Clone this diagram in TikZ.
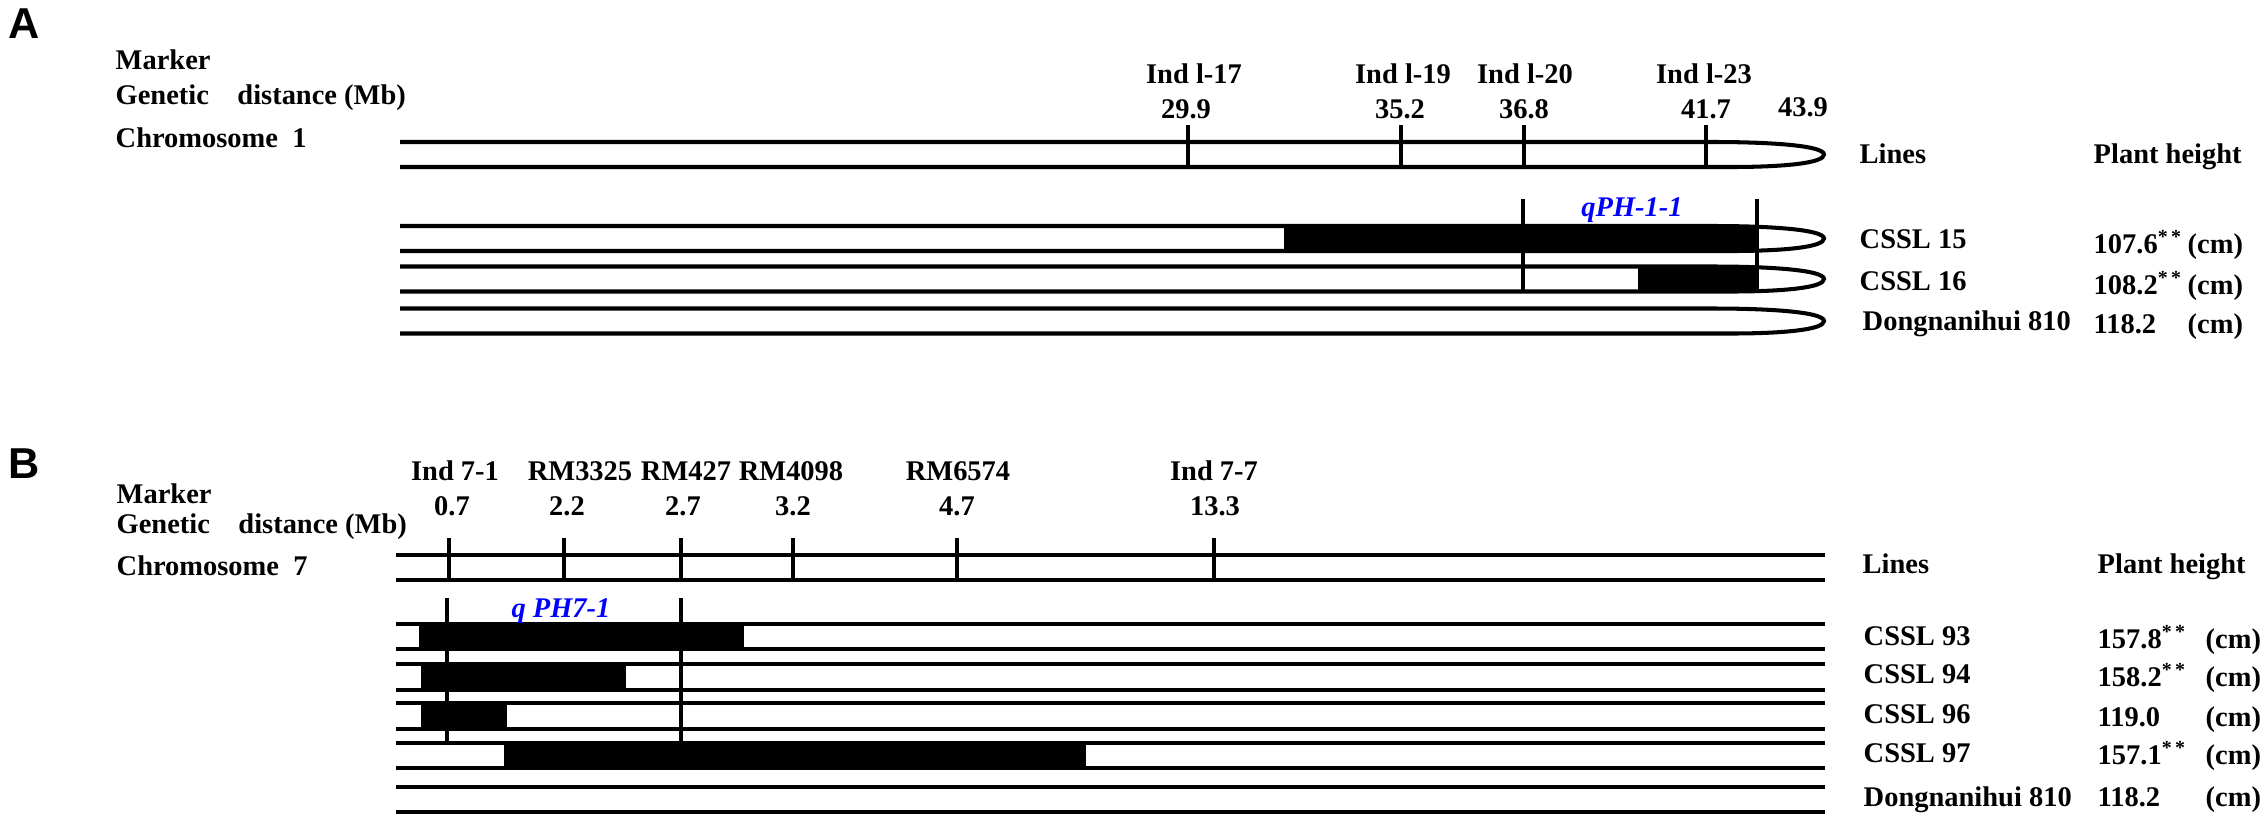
\documentclass[tikz,border=0pt]{standalone}
\usepackage{fontspec}
\setmainfont{Liberation Serif}
\newfontfamily\panelfont{Liberation Sans}
\usepackage{xcolor}
\usepackage{tikz}
\usetikzlibrary{
    positioning,
    calc
}
\tikzset{
    chrom/.style={
        draw=black,
        line width=1.15pt
    }
}
\tikzset{
    segment/.style={
        fill=black
    }
}
\tikzset{
    tick/.style={
        draw=black,
        line width=1pt
    }
}
\tikzset{
    caption/.style={
        anchor=base west,
        inner sep=0pt,
        font=\fontsize{8.1pt}{9.7pt}\selectfont\bfseries
    }
}
\tikzset{
    marker/.style={
        anchor=base,
        inner sep=0pt,
        font=\fontsize{8.1pt}{9.7pt}\selectfont\bfseries
    }
}
\tikzset{
    qtl/.style={
        anchor=base,
        inner sep=0pt,
        text=blue,
        font=\fontsize{8.1pt}{9.7pt}\selectfont\bfseries\itshape
    }
}
\tikzset{
    panel/.style={
        anchor=base west,
        inner sep=0pt,
        font=\panelfont\fontsize{12.3pt}{14pt}\selectfont\bfseries
    }
}

\begin{document}
\begin{tikzpicture}

\useasboundingbox (0mm,0mm) rectangle (226.7mm,-82.2mm);

% ------------------------------------------------------------
% Panel A: chromosome 1
% ------------------------------------------------------------

\node[panel] (pA) at (0.8mm,-3.8mm) {A};
\node[caption] (mkA) at (11.5mm,-6.9mm) {Marker};
\node[caption] (gdA) at (11.5mm,-10.4mm) {Genetic\quad distance (Mb)};
\node[caption] (chA) at (11.5mm,-14.7mm) {Chromosome\ \ 1};

\node[marker] (a17) at (119.4mm,-8.35mm) {Ind l-17};
\node[marker] (a19) at (140.3mm,-8.35mm) {Ind l-19};
\node[marker] (a20) at (152.5mm,-8.35mm) {Ind l-20};
\node[marker] (a23) at (170.4mm,-8.35mm) {Ind l-23};
\node[marker] (a17d) at (118.6mm,-11.8mm) {29.9};
\node[marker] (a19d) at (140.0mm,-11.8mm) {35.2};
\node[marker] (a20d) at (152.4mm,-11.8mm) {36.8};
\node[marker] (a23d) at (170.6mm,-11.8mm) {41.7};
\node[marker] (aend) at (180.3mm,-11.6mm) {43.9};

% reference chromosome
\draw[chrom] (40mm,-14.2mm) -- (171.3mm,-14.2mm)
    .. controls (177.5mm,-14.2mm) and (182.4mm,-14.6mm) .. (182.4mm,-15.45mm)
    .. controls (182.4mm,-16.3mm) and (178.5mm,-16.7mm) .. (173mm,-16.7mm)
    -- (40mm,-16.7mm);
\draw[tick] (118.8mm,-12.5mm) -- (118.8mm,-16.7mm);
\draw[tick] (140.1mm,-12.5mm) -- (140.1mm,-16.7mm);
\draw[tick] (152.4mm,-12.5mm) -- (152.4mm,-16.7mm);
\draw[tick] (170.6mm,-12.5mm) -- (170.6mm,-16.7mm);

% introgression lines
\fill[segment] (128.4mm,-22.6mm) rectangle (175.8mm,-25.1mm);
\draw[chrom] (40mm,-22.6mm) -- (171.3mm,-22.6mm)
    .. controls (177.5mm,-22.6mm) and (182.4mm,-23.0mm) .. (182.4mm,-23.85mm)
    .. controls (182.4mm,-24.7mm) and (178.5mm,-25.1mm) .. (173mm,-25.1mm)
    -- (40mm,-25.1mm);
\fill[segment] (163.8mm,-26.65mm) rectangle (175.8mm,-29.15mm);
\draw[chrom] (40mm,-26.65mm) -- (171.3mm,-26.65mm)
    .. controls (177.5mm,-26.65mm) and (182.4mm,-27.05mm) .. (182.4mm,-27.9mm)
    .. controls (182.4mm,-28.75mm) and (178.5mm,-29.15mm) .. (173mm,-29.15mm)
    -- (40mm,-29.15mm);
\draw[chrom] (40mm,-30.85mm) -- (171.3mm,-30.85mm)
    .. controls (177.5mm,-30.85mm) and (182.4mm,-31.25mm) .. (182.4mm,-32.1mm)
    .. controls (182.4mm,-32.95mm) and (178.5mm,-33.35mm) .. (173mm,-33.35mm)
    -- (40mm,-33.35mm);
\draw[tick] (152.3mm,-19.9mm) -- (152.3mm,-29.15mm);
\draw[tick] (175.7mm,-19.9mm) -- (175.7mm,-29.15mm);
\node[qtl] (qA) at (163.2mm,-21.6mm) {qPH-1-1};

\node[caption] (lnA) at (185.9mm,-16.3mm) {Lines};
\node[caption] (phA) at (209.3mm,-16.3mm) {Plant height};
\node[caption] (l15) at (185.9mm,-24.8mm) {CSSL 15};
\node[caption] (v15) at (209.3mm,-25.3mm) {107.6\textsuperscript{*\,*}};
\node[caption] (u15) at (218.7mm,-25.3mm) {(cm)};
\node[caption] (l16) at (185.9mm,-29.0mm) {CSSL 16};
\node[caption] (v16) at (209.3mm,-29.4mm) {108.2\textsuperscript{*\,*}};
\node[caption] (u16) at (218.7mm,-29.4mm) {(cm)};
\node[caption] (ldA) at (186.2mm,-33.0mm) {Dongnanihui 810};
\node[caption] (vdA) at (209.3mm,-33.3mm) {118.2};
\node[caption] (udA) at (218.7mm,-33.3mm) {(cm)};

% ------------------------------------------------------------
% Panel B: chromosome 7
% ------------------------------------------------------------

\node[panel] (pB) at (0.8mm,-47.8mm) {B};
\node[caption] (mkB) at (11.6mm,-50.3mm) {Marker};
\node[caption] (gdB) at (11.6mm,-53.3mm) {Genetic\quad distance (Mb)};
\node[caption] (chB) at (11.6mm,-57.5mm) {Chromosome\ \ 7};

\node[marker] (b1) at (45.5mm,-48.0mm) {Ind 7-1};
\node[marker] (b3325) at (58.0mm,-48.0mm) {RM3325};
\node[marker] (b427) at (68.6mm,-48.0mm) {RM427};
\node[marker] (b4098) at (79.1mm,-48.0mm) {RM4098};
\node[marker] (b6574) at (95.8mm,-48.0mm) {RM6574};
\node[marker] (b7) at (121.4mm,-48.0mm) {Ind 7-7};
\node[marker] (b1d) at (45.2mm,-51.5mm) {0.7};
\node[marker] (b3325d) at (56.7mm,-51.5mm) {2.2};
\node[marker] (b427d) at (68.3mm,-51.5mm) {2.7};
\node[marker] (b4098d) at (79.3mm,-51.5mm) {3.2};
\node[marker] (b6574d) at (95.7mm,-51.5mm) {4.7};
\node[marker] (b7d) at (121.5mm,-51.5mm) {13.3};

% reference chromosome
\draw[chrom] (39.6mm,-55.5mm) -- (182.5mm,-55.5mm) (39.6mm,-58.0mm) -- (182.5mm,-58.0mm);
\draw[tick] (44.9mm,-53.8mm) -- (44.9mm,-58.0mm);
\draw[tick] (56.4mm,-53.8mm) -- (56.4mm,-58.0mm);
\draw[tick] (68.1mm,-53.8mm) -- (68.1mm,-58.0mm);
\draw[tick] (79.3mm,-53.8mm) -- (79.3mm,-58.0mm);
\draw[tick] (95.7mm,-53.8mm) -- (95.7mm,-58.0mm);
\draw[tick] (121.4mm,-53.8mm) -- (121.4mm,-58.0mm);

% introgression lines
\fill[segment] (41.9mm,-62.4mm) rectangle (74.4mm,-64.9mm);
\fill[segment] (42.1mm,-66.4mm) rectangle (62.6mm,-69.0mm);
\fill[segment] (42.1mm,-70.3mm) rectangle (50.7mm,-72.85mm);
\fill[segment] (50.4mm,-74.25mm) rectangle (108.6mm,-76.8mm);
\draw[chrom] (39.6mm,-62.4mm) -- (182.5mm,-62.4mm) (39.6mm,-64.9mm) -- (182.5mm,-64.9mm);
\draw[chrom] (39.6mm,-66.4mm) -- (182.5mm,-66.4mm) (39.6mm,-69.0mm) -- (182.5mm,-69.0mm);
\draw[chrom] (39.6mm,-70.3mm) -- (182.5mm,-70.3mm) (39.6mm,-72.85mm) -- (182.5mm,-72.85mm);
\draw[chrom] (39.6mm,-74.25mm) -- (182.5mm,-74.25mm) (39.6mm,-76.8mm) -- (182.5mm,-76.8mm);
\draw[chrom] (39.6mm,-78.65mm) -- (182.5mm,-78.65mm) (39.6mm,-81.2mm) -- (182.5mm,-81.2mm);
\draw[tick] (44.7mm,-59.8mm) -- (44.7mm,-74.25mm);
\draw[tick] (68.1mm,-59.8mm) -- (68.1mm,-74.25mm);
\node[qtl] (qB) at (56.1mm,-61.7mm) {q PH7-1};

\node[caption] (lnB) at (186.2mm,-57.3mm) {Lines};
\node[caption] (phB) at (209.7mm,-57.3mm) {Plant height};
\node[caption] (l93) at (186.3mm,-64.5mm) {CSSL 93};
\node[caption] (v93) at (209.7mm,-64.8mm) {157.8\textsuperscript{*\,*}};
\node[caption] (u93) at (220.5mm,-64.8mm) {(cm)};
\node[caption] (l94) at (186.3mm,-68.3mm) {CSSL 94};
\node[caption] (v94) at (209.7mm,-68.6mm) {158.2\textsuperscript{*\,*}};
\node[caption] (u94) at (220.5mm,-68.6mm) {(cm)};
\node[caption] (l96) at (186.3mm,-72.3mm) {CSSL 96};
\node[caption] (v96) at (209.7mm,-72.6mm) {119.0};
\node[caption] (u96) at (220.5mm,-72.6mm) {(cm)};
\node[caption] (l97) at (186.3mm,-76.2mm) {CSSL 97};
\node[caption] (v97) at (209.7mm,-76.4mm) {157.1\textsuperscript{*\,*}};
\node[caption] (u97) at (220.5mm,-76.4mm) {(cm)};
\node[caption] (ldB) at (186.3mm,-80.6mm) {Dongnanihui 810};
\node[caption] (vdB) at (209.7mm,-80.6mm) {118.2};
\node[caption] (udB) at (220.5mm,-80.6mm) {(cm)};

\end{tikzpicture}
\end{document}
